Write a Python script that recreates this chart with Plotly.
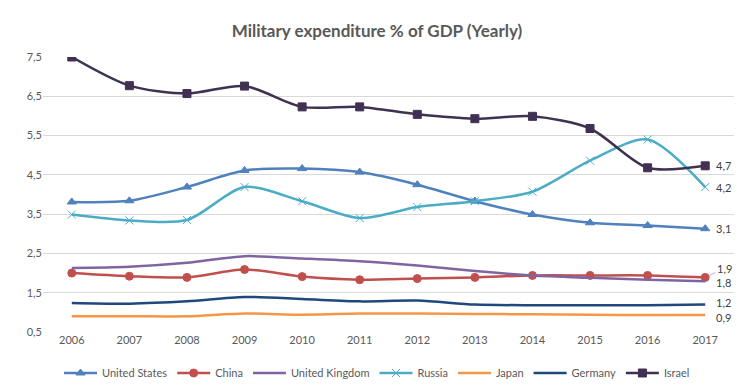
import plotly.graph_objects as go

years = ["2006", "2007", "2008", "2009", "2010", "2011", "2012", "2013", "2014", "2015", "2016", "2017"]

united_states = [3.81, 3.84, 4.19, 4.61, 4.66, 4.57, 4.25, 3.83, 3.49, 3.28, 3.21, 3.13]
china = [2.00, 1.92, 1.89, 2.09, 1.91, 1.83, 1.86, 1.89, 1.94, 1.94, 1.94, 1.89]
united_kingdom = [2.13, 2.16, 2.26, 2.43, 2.37, 2.30, 2.19, 2.05, 1.94, 1.88, 1.83, 1.79]
russia = [3.49, 3.34, 3.35, 4.19, 3.83, 3.40, 3.68, 3.83, 4.07, 4.86, 5.40, 4.19]
japan = [0.90, 0.90, 0.90, 0.97, 0.94, 0.97, 0.97, 0.96, 0.95, 0.94, 0.93, 0.93]
germany = [1.24, 1.22, 1.28, 1.39, 1.34, 1.28, 1.30, 1.20, 1.18, 1.18, 1.18, 1.20]
israel = [7.50, 6.77, 6.57, 6.76, 6.23, 6.23, 6.04, 5.93, 5.99, 5.68, 4.68, 4.73]

y_ticks = [0.5, 1.5, 2.5, 3.5, 4.5, 5.5, 6.5, 7.5]

FONT = "Lato, Roboto, sans-serif"
GRAY = "#595959"

series = [
    ("United States", united_states, "#4F81BD", "triangle-up", 8),
    ("China", china, "#C0504D", "circle", 8),
    ("United Kingdom", united_kingdom, "#8064A2", None, 0),
    ("Russia", russia, "#4BACC6", "x-thin", 8),
    ("Japan", japan, "#F79646", None, 0),
    ("Germany", germany, "#1F497D", None, 0),
    ("Israel", israel, "#403152", "square", 8),
]

# small vertical nudges (px) for end labels to keep them apart
label_shift = {"Germany": 2, "Japan": -2, "United Kingdom": -1}

fig = go.Figure()
annotations = []
last_idx = len(years) - 1
for name, vals, color, sym, size in series:
    kw = {}
    if sym:
        kw["mode"] = "lines+markers"
        kw["marker"] = dict(symbol=sym, size=size, color=color,
                            line=dict(color=color, width=1))
    else:
        kw["mode"] = "lines"
    fig.add_trace(go.Scatter(
        x=years, y=vals, name=name,
        line=dict(color=color, width=2.5, shape="spline", smoothing=0.8),
        **kw))
    label = f"{vals[-1]:.1f}".replace(".", ",")
    if name == "China":
        annotations.append(dict(
            x=last_idx, y=vals[-1], xref="x", yref="y", text=label,
            showarrow=True, arrowhead=0, arrowwidth=0.8, arrowcolor="#A6A6A6",
            ax=19, ay=-9, xanchor="center", standoff=4,
            font=dict(family=FONT, size=11, color="#404040")))
    else:
        annotations.append(dict(
            x=last_idx, y=vals[-1], xref="x", yref="y", text=label,
            showarrow=False, xanchor="left", xshift=9,
            yshift=label_shift.get(name, 0),
            font=dict(family=FONT, size=11, color="#404040")))

fig.update_layout(
    width=753, height=385,
    autosize=False,
    margin=dict(l=35, r=27, t=49, b=61, autoexpand=False),
    paper_bgcolor="white", plot_bgcolor="white",
    font=dict(family=FONT, size=11, color=GRAY),
    title=dict(text="<b>Military expenditure % of GDP (Yearly)</b>",
               x=369 / 753, xanchor="center", xref="container",
               y=1 - 23 / 385, yanchor="middle", yref="container",
               font=dict(family=FONT, size=17, color=GRAY)),
    xaxis=dict(type="category", range=[-0.5, 11.5], showgrid=False,
               showline=False, ticks="", automargin=False,
               tickfont=dict(size=11, color=GRAY)),
    yaxis=dict(range=[0.5, 7.5], tickvals=y_ticks, showgrid=True,
               gridcolor="#D9D9D9", gridwidth=1, zeroline=False,
               showline=False, ticks="", tickformat=".1f", automargin=False,
               tickfont=dict(size=11, color=GRAY)),
    separators=", ",
    legend=dict(orientation="h", x=369 / 753, xanchor="center", xref="container",
                y=1 - 365 / 385, yanchor="middle", yref="container",
                font=dict(size=11, color=GRAY),
                itemwidth=33, tracegroupgap=0),
    showlegend=True,
    annotations=annotations,
)

fig.write_html("out.html")
